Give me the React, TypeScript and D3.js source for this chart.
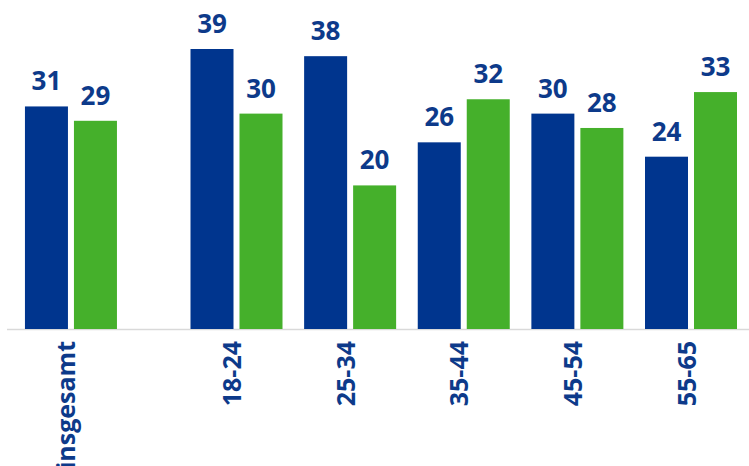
import React from "react";
import * as d3 from "d3";

const categories = ["insgesamt", "18-24", "25-34", "35-44", "45-54", "55-65"];
const seriesBlue = [31, 39, 38, 26, 30, 24];
const seriesGreen = [29, 30, 20, 32, 28, 33];

const W = 749;
const H = 466;
const BLUE = "#00358e";
const GREEN = "#45b02b";
const LABEL = "#0d3a8a";

export default function App() {
  const baseY = 329;
  const y = d3.scaleLinear().domain([0, 39]).range([baseY, 49]);
  // slot positions: extra gap after "insgesamt"
  const slot = (i: number) => (i === 0 ? 0 : i + 0.457);
  const x = d3.scaleLinear().domain([slot(1), slot(5)]).range([236.5, 691]);
  const barW = 43;
  const gap = 6;
  const font = "'Open Sans', 'DejaVu Sans', sans-serif";

  return (
    <svg
      width={W}
      height={H}
      style={{ position: "absolute", left: 0, top: 0, background: "#fff" }}
      fontFamily={font}
    >
      <line x1={7} x2={W} y1={baseY + 0.5} y2={baseY + 0.5} stroke="#d9d9d9" strokeWidth={1.5} />
      {categories.map((c, i) => {
        const cx = x(slot(i));
        const bx = cx - gap / 2 - barW;
        const gx = cx + gap / 2;
        const vb = seriesBlue[i];
        const vg = seriesGreen[i];
        return (
          <g key={c}>
            <rect x={bx} y={y(vb)} width={barW} height={baseY - y(vb)} fill={BLUE} />
            <rect x={gx} y={y(vg)} width={barW} height={baseY - y(vg)} fill={GREEN} />
            <text
              x={bx + barW / 2}
              y={y(vb) - 16}
              textAnchor="middle"
              fontSize={26}
              fontWeight={700}
              fill={LABEL}
            >
              {vb}
            </text>
            <text
              x={gx + barW / 2}
              y={y(vg) - 16}
              textAnchor="middle"
              fontSize={26}
              fontWeight={700}
              fill={LABEL}
            >
              {vg}
            </text>
            <text
              transform={`translate(${cx + 4.5},${341}) rotate(-90)`}
              textAnchor="end"
              fontSize={25}
              fontWeight={700}
              fill={LABEL}
            >
              {c}
            </text>
          </g>
        );
      })}
    </svg>
  );
}
